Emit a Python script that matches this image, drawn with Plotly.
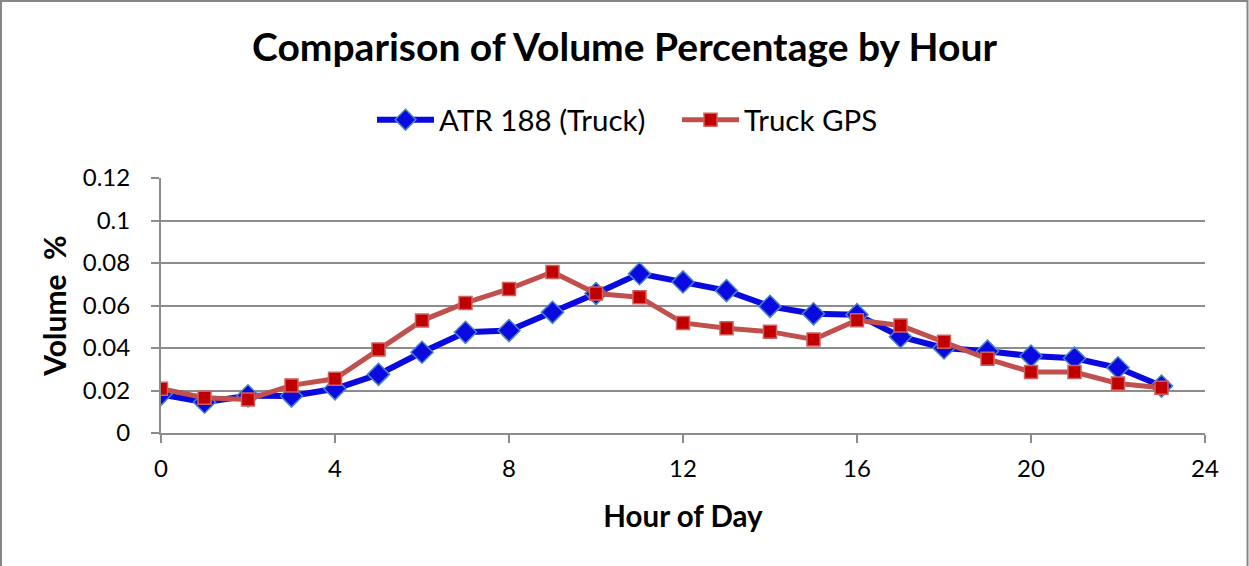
import plotly.graph_objects as go

hours = list(range(24))
atr_truck = [0.0182, 0.0145, 0.0175, 0.0174, 0.0208, 0.0276, 0.0380, 0.0474, 0.0482, 0.0568,
             0.0656, 0.0750, 0.0711, 0.0670, 0.0596, 0.0561, 0.0557, 0.0453, 0.0400, 0.0385,
             0.0362, 0.0352, 0.0307, 0.0221]
truck_gps = [0.0208, 0.0166, 0.0158, 0.0224, 0.0255, 0.0393, 0.0529, 0.0612, 0.0678, 0.0758,
             0.0656, 0.0639, 0.0518, 0.0493, 0.0477, 0.0440, 0.0531, 0.0506, 0.0429, 0.0349,
             0.0287, 0.0287, 0.0233, 0.0213]
x_ticks = [0, 4, 8, 12, 16, 20, 24]
y_ticks = [0, 0.02, 0.04, 0.06, 0.08, 0.1, 0.12]
y_tick_labels = ["0", "0.02", "0.04", "0.06", "0.08", "0.1", "0.12"]

FONT = "Lato, 'Open Sans', sans-serif"
GRID = "#8c8c8c"

fig = go.Figure()
fig.add_trace(go.Scatter(
    x=hours, y=atr_truck, name="ATR 188 (Truck)", mode="lines+markers",
    line=dict(color="#0a0ae0", width=6),
    marker=dict(symbol="diamond", size=17, color="#0a0ae0",
                line=dict(color="#4a86c0", width=1.5)),
))
fig.add_trace(go.Scatter(
    x=hours, y=truck_gps, name="Truck GPS", mode="lines+markers",
    line=dict(color="#c0504d", width=5),
    marker=dict(symbol="square", size=13, color="#c00000",
                line=dict(color="#d0605d", width=1.5)),
))

L, R, T, B = 161, 44, 178, 133
W, H = 1249, 566
pw = W - L - R
ph = H - T - B

fig.update_layout(
    width=W, height=H,
    margin=dict(l=L, r=R, t=T, b=B),
    paper_bgcolor="white", plot_bgcolor="white",
    font=dict(family=FONT, color="black", size=24),
    title=dict(text="<b>Comparison of Volume Percentage by Hour</b>",
               x=0.5, xanchor="center", y=1 - 47 / H, yanchor="middle",
               font=dict(size=39, family=FONT)),
    legend=dict(orientation="h", x=(372 - L) / pw, xanchor="left", y=1 + (178 - 120) / ph,
                yanchor="middle", font=dict(size=29.5), itemwidth=57, entrywidth=233,
                bgcolor="rgba(0,0,0,0)"),
    showlegend=True,
    xaxis=dict(range=[0, 24], tickvals=x_ticks, ticktext=[str(v) for v in x_ticks],
               showgrid=False, zeroline=False, showline=True, linecolor=GRID, linewidth=2,
               ticks="outside", ticklen=8, tickcolor=GRID, tickwidth=2,
               tickfont=dict(size=24), ticklabelstandoff=5,
               title=dict(text="<b>Hour of Day</b>", font=dict(size=29.5), standoff=26)),
    yaxis=dict(range=[0, 0.12], tickvals=y_ticks, ticktext=y_tick_labels,
               showgrid=True, gridcolor=GRID, gridwidth=1.5, zeroline=False,
               showline=True, linecolor=GRID, linewidth=2,
               ticks="outside", ticklen=8, tickcolor=GRID, tickwidth=2,
               tickfont=dict(size=24), ticklabelstandoff=16,
               title=dict(text="<b>Volume\u00a0\u00a0%</b>", font=dict(size=30), standoff=7)),
)

# outer chart border
fig.add_shape(type="rect", xref="paper", yref="paper",
              x0=(1 - L) / pw, x1=(W - 1.5 - L) / pw,
              y0=-(B + 10) / ph, y1=1 + (T - 1) / ph,
              line=dict(color="#868686", width=2), layer="below")

fig.write_html("out.html", post_script="document.body.style.margin='0';",
               config={"displayModeBar": False})
